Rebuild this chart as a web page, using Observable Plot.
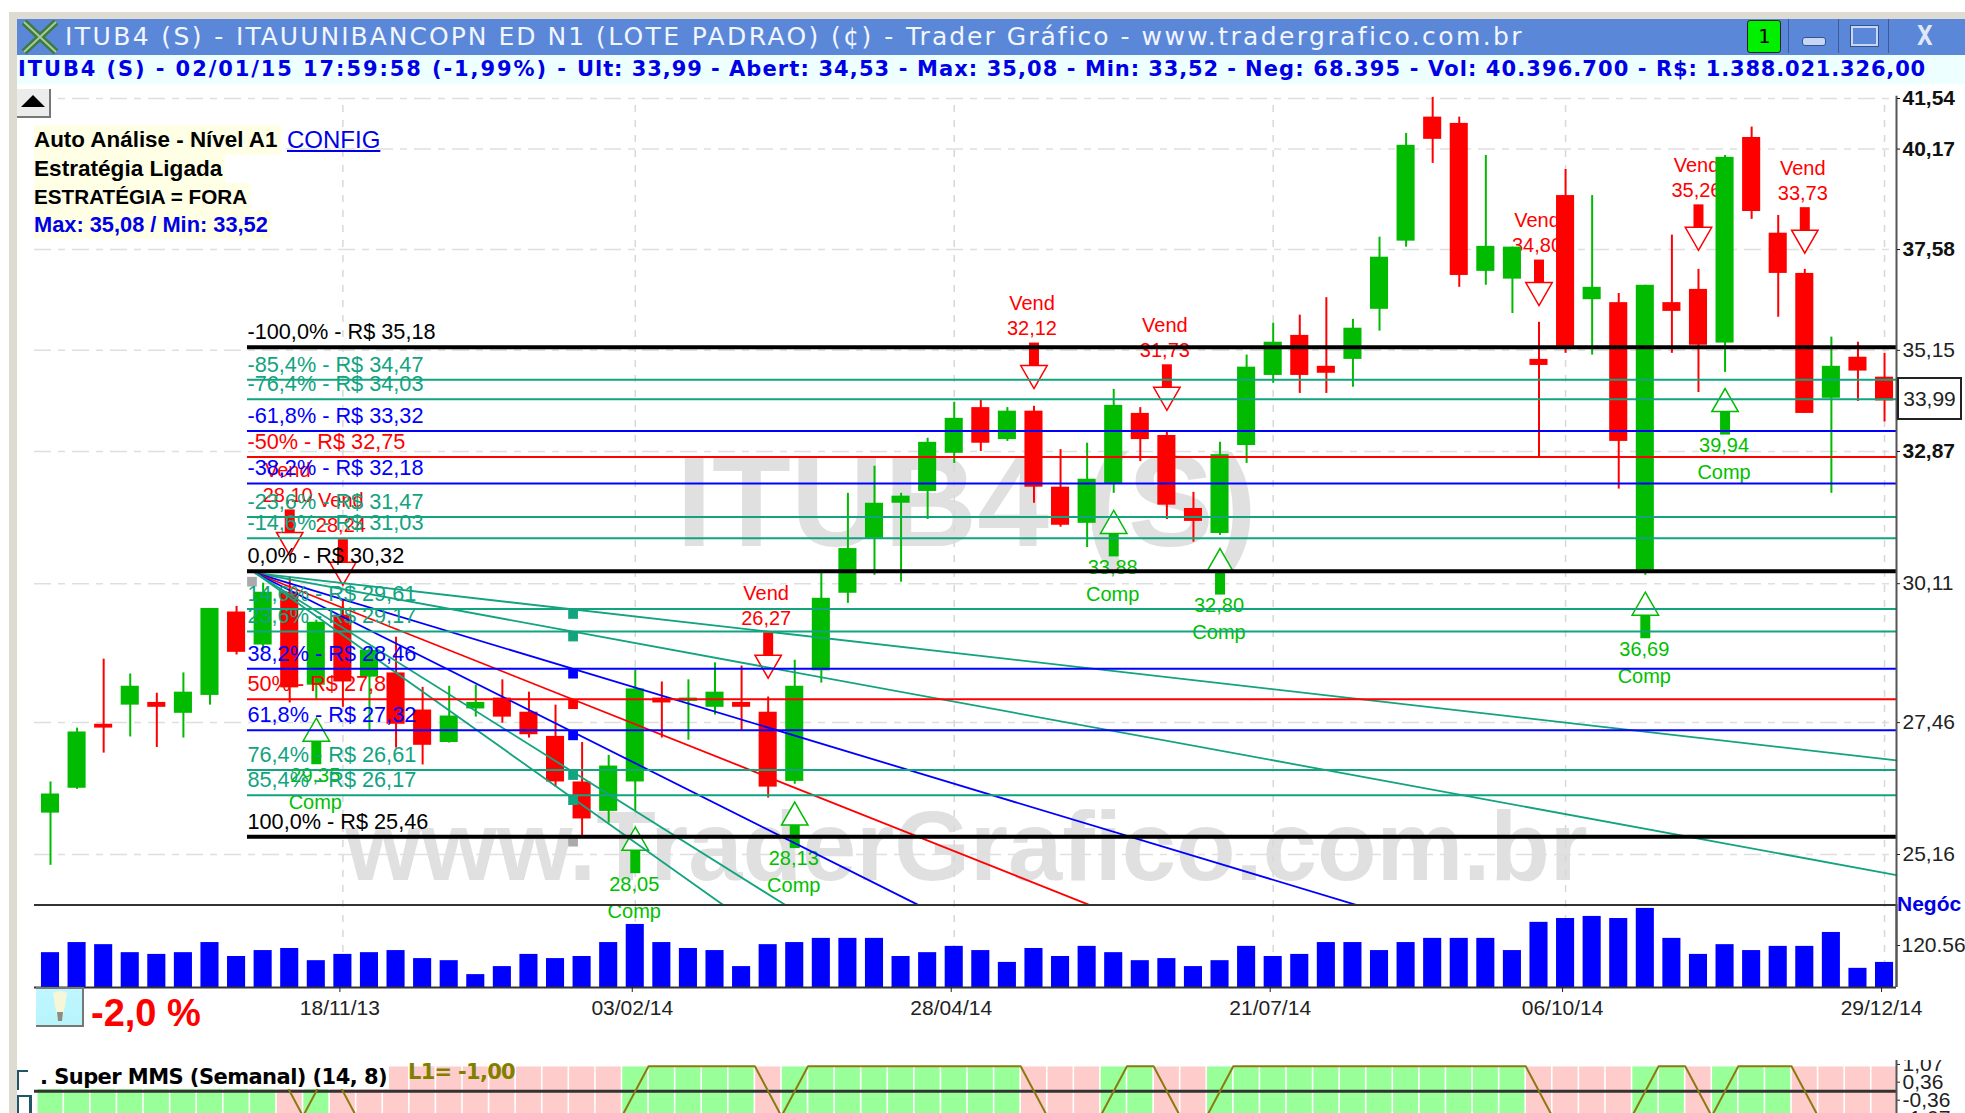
<!DOCTYPE html>
<html><head><meta charset="utf-8">
<script src="https://cdn.jsdelivr.net/npm/d3@7"></script>
<script src="https://cdn.jsdelivr.net/npm/@observablehq/plot@0.6"></script>
<style>
html,body{margin:0;padding:0;background:#fff;}
#page{position:relative;width:1965px;height:1113px;overflow:hidden;background:#fff;font-family:"Liberation Sans",Arial,sans-serif;}
#page>*{position:absolute;}
.n{white-space:nowrap;}
svg{background:transparent!important;}
</style></head><body>
<div id="page">
 <div style="left:9px;top:12px;width:1956px;height:7px;background:#dedbd2"></div>
 <div style="left:9px;top:12px;width:8px;height:1101px;background:#dedbd2"></div>
 <div style="left:17px;top:19px;width:1948px;height:36px;background:#5b87d9"></div>
 <div style="left:17px;top:55px;width:1948px;height:29px;background:#eeffff"></div>
 <div id="main" style="left:0;top:0"></div>
 <div id="vol" style="left:0;top:904px"></div>
 <div id="ind" style="left:0;top:1060px"></div>

 <svg style="left:20px;top:19px" width="40" height="36"><path d="M4 3L36 33M36 3L4 33" stroke="#3d7a3d" stroke-width="7"/><path d="M4 3L36 33M36 3L4 33" stroke="#a9c9a0" stroke-width="2"/></svg>
 <div style="left:1747px;top:20px;width:32px;height:31px;background:#00f000;border:1px solid #222;border-radius:3px;color:#000;font:20px/31px 'DejaVu Sans Mono',monospace;text-align:center">1</div>
 <div style="left:1788px;top:19px;width:1px;height:34px;background:#3c5a9c"></div>
 <div style="left:1838px;top:19px;width:1px;height:34px;background:#3c5a9c"></div>
 <div style="left:1888px;top:19px;width:1px;height:34px;background:#3c5a9c"></div>
 <div style="left:1802px;top:37px;width:22px;height:7px;background:#c7d6f2;border:1px solid #34548f;border-radius:3px"></div>
 <div style="left:1851px;top:26px;width:23px;height:16px;border:2px solid #c7d6f2;outline:1px solid #34548f"></div>
 <div class="n" style="left:1917px;top:19px;color:#dfe8f8;font:bold 26px/34px 'DejaVu Sans Mono',monospace">X</div>

 <div style="left:17px;top:89px;width:32px;height:27px;background:#ececec;border-right:2px solid #777;border-bottom:2px solid #777"></div>
 <svg style="left:20px;top:94px" width="26" height="16"><path d="M1 13L13 1L25 13Z" fill="#000"/></svg>

 <div class="n" style="left:34px;top:125px;height:30px;padding-right:4px;background:#ffffe6;font:bold 22.4px/30px 'Liberation Sans';color:#000">Auto Análise - Nível A1</div>
 <div class="n" style="left:287px;top:125px;height:30px;color:#0000e6;font:24px/30px 'Liberation Sans';text-decoration:underline">CONFIG</div>
 <div class="n" style="left:34px;top:155px;height:28px;padding-right:3px;background:#ffffe6;font:bold 22.6px/28px 'Liberation Sans';color:#000">Estratégia Ligada</div>
 <div class="n" style="left:34px;top:183px;height:28px;padding-right:3px;background:#ffffe6;font:bold 20.7px/28px 'Liberation Sans';color:#000">ESTRATÉGIA = FORA</div>
 <div class="n" style="left:34px;top:211px;height:28px;padding-right:3px;background:#ffffe6;font:bold 21.8px/28px 'Liberation Sans';color:#0000e6">Max: 35,08 / Min: 33,52</div>

 <div style="left:1897px;top:377px;width:61px;height:39px;border:2px solid #222;background:#fff;color:#222;font:21px/39px 'Liberation Sans';text-align:center">33,99</div>
 <div class="n" style="left:1897px;top:890px;color:#0000e6;font:bold 21px/28px 'Liberation Sans'">Negóc</div>

 <div style="left:36px;top:987px;width:46px;height:36px;background:linear-gradient(#bff6ff,#b8f4fb);border-right:2px solid #777;border-bottom:2px solid #777;border-top:2px solid #777"></div>
 <svg style="left:44px;top:990px" width="32" height="34"><path d="M9 3Q16 -1 23 3L21 16L18 30H14L11 16Z" fill="#f6f6d8"/><path d="M13 22H19L18 31H14Z" fill="#8c8c80"/></svg>
 <div class="n" style="left:91px;top:992px;color:#ff0000;font:bold 38px/42px 'Liberation Sans'">-2,0 %</div>

 <div style="left:34px;top:1060px;width:355px;height:29px;background:#fff"></div>
 <div style="left:17px;top:1070px;width:9px;height:18px;border-left:2px solid #225566;border-top:2px solid #225566"></div>
 <div style="left:17px;top:1095px;width:10px;height:18px;border:2px solid #225566;border-right-width:3px"></div>
</div>
<script>
// ---------- header text ----------
const titleParts = ["ITUB4 (S) - ","ITAUUNIBANCOPN ED N1 ","(LOTE PADRAO) ","(¢) - ","Trader Gráfico - ","www.tradergrafico.com.br"];
const titleEdges = [65,236,596,831,906,1141.6,1524];
const infoParts = ["ITUB4 (S) - 02/01/15 17:59:58 (-1,99%) - ","Ult: 33,99 - ","Abert: 34,53 - ","Max: 35,08 - ","Min: 33,52 - ","Neg: 68.395 - ","Vol: 40.396.700 - ","R$: 1.388.021.326,00"];
const infoEdges = [18,577,729,917,1085,1245,1428,1656,1926];

// ---------- weekly candles (ITUB4), prices in R$ ----------
const opens  = [25.86,26.29,27.43,27.78,27.83,27.63,27.96,29.55,28.91,29.94,28.15,29.49,28.30,28.38,27.69,27.10,27.71,27.91,27.65,27.21,26.40,25.89,26.40,27.91,27.85,27.74,27.83,27.65,26.41,28.42,29.92,31.03,31.76,32.01,32.83,33.84,33.13,33.76,32.10,31.34,32.16,33.71,33.22,31.65,31.13,33.00,34.57,35.50,34.78,34.94,36.12,37.79,41.03,40.86,37.04,36.85,34.94,38.95,36.35,36.28,30.38,36.28,36.60,35.32,40.48,37.99,36.99,34.05,34.99,34.53];
const closes = [26.19,27.29,27.36,28.13,27.74,28.02,29.62,28.77,29.94,28.10,29.35,28.21,28.81,27.43,27.05,27.58,27.83,27.56,27.24,26.40,25.76,26.68,28.08,27.82,27.91,28.02,27.74,26.31,28.13,29.82,30.82,31.76,31.91,33.07,33.60,33.05,33.76,32.10,31.30,32.27,33.89,33.13,31.72,31.38,32.80,34.76,35.34,34.57,34.62,35.67,37.39,40.27,40.43,36.94,37.66,37.64,34.80,35.24,36.65,33.09,36.70,36.07,35.27,39.95,38.54,36.99,33.71,34.78,34.67,33.99];
const highs  = [26.40,27.36,28.64,28.36,28.00,28.38,29.62,29.66,30.12,30.24,29.39,29.78,28.87,29.06,28.11,28.13,28.15,28.25,28.02,27.78,27.10,26.87,28.43,28.21,28.25,28.57,28.51,27.93,28.62,30.32,31.97,32.55,31.97,33.16,33.96,34.02,33.84,33.87,32.91,33.05,34.25,33.84,33.29,31.99,33.07,35.04,35.79,35.98,36.40,35.88,37.89,40.59,41.57,41.03,40.00,37.64,35.81,39.63,38.95,36.50,36.70,37.94,37.09,40.00,40.76,38.44,37.09,35.46,35.34,35.08];
const lows   = [24.98,26.27,26.91,27.20,27.01,27.18,27.78,28.72,28.81,27.82,27.87,27.74,27.32,27.00,26.70,27.09,27.56,27.45,27.18,26.31,25.48,25.69,25.89,27.18,27.14,27.60,27.32,26.12,26.36,28.19,29.72,30.28,30.14,31.42,32.61,32.87,33.09,31.76,31.26,30.84,31.97,32.65,31.42,30.95,31.09,32.61,34.39,34.16,34.16,34.30,35.60,37.64,39.79,36.65,36.70,36.02,32.76,35.08,35.04,32.06,30.28,35.08,34.18,34.64,38.34,35.93,33.71,31.97,33.98,33.52];
const volumes = [100,129,123,100,95,100,129,89,106,112,77,95,100,106,83,77,37,60,95,83,89,129,181,129,112,106,60,123,129,141,141,141,89,100,118,106,72,112,89,118,100,77,83,60,77,118,89,95,129,129,106,129,141,141,141,106,187,198,204,198,227,141,95,123,106,118,118,158,55,72];
// Super MMS state per week: 1 = buy (green), -1 = sell (pink)
const mmsRuns = [[9,1],[1,-1],[1,1],[11,-1],[5,1],[1,-1],[9,1],[3,-1],[2,1],[2,-1],[12,1],[4,-1],[2,1],[1,-1],[3,1],[4,-1]];

// ---------- axes ----------
const dateTicks = [11,22,34,46,57,69];
const dateLabels = ["18/11/13","03/02/14","28/04/14","21/07/14","06/10/14","29/12/14"];
const boldTicks = [41.54,40.17,37.58,32.87];
const plainTicks = [35.15,30.11,27.46,25.16];
const allTicks = [...boldTicks,...plainTicks];

// ---------- Fibonacci levels ----------
const fibValues = [35.22,34.47,34.03,33.32,32.75,32.18,31.47,31.03,30.36,29.61,29.17,28.46,27.89,27.32,26.61,26.17,25.46];
const fibTexts = ["-100,0% - R$ 35,18","-85,4% - R$ 34,47","-76,4% - R$ 34,03","-61,8% - R$ 33,32","-50% - R$ 32,75","-38,2% - R$ 32,18","-23,6% - R$ 31,47","-14,6% - R$ 31,03","0,0% - R$ 30,32","14,6% - R$ 29,61","23,6% - R$ 29,17","38,2% - R$ 28,46","50% - R$ 27,89","61,8% - R$ 27,32","76,4% - R$ 26,61","85,4% - R$ 26,17","100,0% - R$ 25,46"];
const fibKinds = ["k","t","t","b","r","b","t","t","k","t","t","b","r","b","t","t","k"];
const kindColor = {k:"#000000",t:"#12a37f",b:"#0000ff",r:"#ff0000"};

// ---------- fan lines ----------
const fanStart = [7.72,30.32];
const fanEndX = [69.45,69.45,49.15,39.1,32.66,27.65,25.31];
const fanEndY = [26.78,24.82,24.33,24.33,24.33,24.33,24.33];
const fanKinds = ["t","t","b","r","b","t","t"];
const fanMarkIndex = 19.66;
const fanMarkPrices = [29.61,29.17,28.46,27.89,27.32,26.61,26.17];

// ---------- signals ----------
const vendIndex = [9,11,27,37,42,56,62,66];
const vendPrice = [30.68,30.08,28.28,34.27,33.78,36.21,37.56,37.49];
const vendText  = ["28,10","28,24","26,27","32,12","31,73","34,80","35,26","33,73"];
const compIndex = [10,22,28,40,44,60,63];
const compPrice = [27.54,25.62,26.05,31.61,30.82,29.94,34.27];
const compText  = ["29,35","28,05","28,13","33,88","32,80","36,69","39,94"];

// ---------- helper: header text fitted between two edges ----------
const page = document.getElementById("page");
const ctx = document.createElement("canvas").getContext("2d");
function fit(text,left,right,font,top,lh,color,bg){
  ctx.font = font;
  const gap = (right-left-ctx.measureText(text).width)/text.length;
  const d = document.createElement("div");
  d.className="n"; d.textContent=text;
  d.style.cssText=`left:${left}px;top:${top}px;font:${font};line-height:${lh}px;color:${color};letter-spacing:${gap}px;white-space:pre;`;
  page.append(d);
}
titleParts.forEach((t,i)=>fit(t,titleEdges[i],titleEdges[i+1],"25px 'DejaVu Sans'",19,36,"#f2f6ff"));
infoParts.forEach((t,i)=>fit(t,infoEdges[i],infoEdges[i+1],"bold 21px 'DejaVu Sans'",55,29,"#0000e6"));
fit(". Super MMS (Semanal) (14, 8)",40,387,"bold 21px 'DejaVu Sans'",1064,26,"#000");
fit("L1= -1,00",408,515,"bold 21px 'DejaVu Sans'",1059,26,"#808000");

// ---------- tables ----------
const GREEN="#00bb00", RED="#ff0000", SANS="Liberation Sans";
const candles = opens.map((o,i)=>({i,o,c:closes[i],h:highs[i],l:lows[i],v:volumes[i],col:closes[i]>=o?GREEN:RED}));
const fib = fibValues.map((v,i)=>({v,t:fibTexts[i],col:kindColor[fibKinds[i]],w:fibKinds[i]==="k"?4:2}));
const fans = fanEndX.flatMap((x,k)=>[{k,x:fanStart[0],y:fanStart[1]},{k,x,y:fanEndY[k]}]);
const vend = vendIndex.map((i,k)=>({i,p:vendPrice[k],t:vendText[k]}));
const comp = compIndex.map((i,k)=>({i,p:compPrice[k],t:compText[k]}));
const mms = mmsRuns.flatMap(([n,s])=>Array(n).fill(s)).map((s,i)=>({i,s}));
const fmt = d=>d.toFixed(2).replace(".",",");

const triUp = {draw(c,s){const r=Math.sqrt(s/Math.PI);c.moveTo(0,-r);c.lineTo(r*1.15,r);c.lineTo(-r*1.15,r);c.closePath();}};
const triDown = {draw(c,s){const r=Math.sqrt(s/Math.PI);c.moveTo(0,r);c.lineTo(r*1.15,-r);c.lineTo(-r*1.15,-r);c.closePath();}};
const stem = {draw(c,s){const r=Math.sqrt(s/Math.PI);c.rect(-5,-r,10,2*r);}};

const xOpts = {domain:[-0.602,69.45]};
const common = {width:1965,marginLeft:34,marginRight:69,marginTop:0,style:{background:"transparent",overflow:"hidden"}};

const main = Plot.plot({...common,height:1113,marginBottom:0,
  x:{...xOpts,axis:null},
  y:{type:"log",domain:[25.16,41.54],range:[854,98],axis:null},
  marks:[
    Plot.text(["ITUB4 (S)"],{x:()=>34.46,y:()=>31.72,text:d=>d,fontSize:129,fontWeight:"bold",fontFamily:SANS,fill:"#e0e0e0"}),
    Plot.text(["www.TraderGrafico.com.br"],{x:()=>34.46,y:()=>25.25,text:d=>d,fontSize:97.5,fontWeight:"bold",fontFamily:SANS,fill:"#e0e0e0"}),
    Plot.gridY(allTicks,{stroke:"#dfdfdf",strokeOpacity:1,strokeWidth:1.5,strokeDasharray:"17,7,7,7"}),
    Plot.ruleX(dateTicks,{y1:41.35,y2:23.04,stroke:"#d8d8d8",strokeWidth:1.5,strokeDasharray:"7,8"}),
    // signal captions sit under the candles
    Plot.text(vend,{x:"i",y:"p",text:()=>"Vend",dy:-85,dx:-2,fontSize:20,fontFamily:SANS,fill:RED}),
    Plot.text(vend,{x:"i",y:"p",text:"t",dy:-60,dx:-2,fontSize:20,fontFamily:SANS,fill:RED}),
    Plot.text(comp,{x:"i",y:"p",text:"t",dy:57,dx:-1,fontSize:20,fontFamily:SANS,fill:"#00c000"}),
    Plot.text(comp,{x:"i",y:"p",text:()=>"Comp",dy:84,dx:-1,fontSize:20,fontFamily:SANS,fill:"#00c000"}),
    Plot.ruleX(candles,{x:"i",y1:"l",y2:"h",stroke:"col",strokeWidth:2}),
    Plot.rect(candles,{x1:d=>d.i-0.34,x2:d=>d.i+0.34,y1:"o",y2:"c",fill:"col"}),
    Plot.dot(vend,{x:"i",y:"p",dy:-34.5,symbol:stem,r:11.5,fill:RED,stroke:"none"}),
    Plot.dot(vend,{x:"i",y:"p",dy:-11.5,symbol:triDown,r:11.5,fill:"#fff",stroke:RED,strokeWidth:1.5}),
    Plot.dot(comp,{x:"i",y:"p",dy:34.5,symbol:stem,r:11.5,fill:GREEN,stroke:"none"}),
    Plot.dot(comp,{x:"i",y:"p",dy:11.5,symbol:triUp,r:11.5,fill:"#fff",stroke:GREEN,strokeWidth:1.5}),
    // Fibonacci fan
    Plot.line(fans,{x:"x",y:"y",z:"k",stroke:d=>kindColor[fanKinds[d.k]],strokeWidth:1.8}),
    Plot.dot(fanMarkPrices,{x:()=>fanMarkIndex,y:d=>d,dy:5,symbol:"square",r:5.5,fill:(d,i)=>kindColor[fanKinds[i]],stroke:"none"}),
    Plot.dot([[fanMarkIndex,25.46],[7.58,30.25]],{x:"0",y:"1",dy:5,symbol:"square",r:5.5,fill:"#aaaaaa",stroke:"none"}),
    // Fibonacci levels
    Plot.ruleY(fib,{y:"v",x1:7.41,x2:69.45,stroke:"col",strokeWidth:"w"}),
    Plot.text(fib,{x:()=>7.41,y:"v",text:"t",dy:-15,textAnchor:"start",fontSize:21.7,fontFamily:SANS,fill:"col"}),
    Plot.ruleX([69.45],{y1:41.6,y2:23.04,stroke:"#555",strokeWidth:2}),
    Plot.ruleY([24.33],{stroke:"#333",strokeWidth:2}),
    Plot.axisY(boldTicks,{anchor:"right",tickSize:3,tickPadding:3,tickFormat:fmt,label:null,fontSize:21,fontWeight:"bold",fontFamily:SANS,fill:"#111",stroke:"#111"}),
    Plot.axisY(plainTicks,{anchor:"right",tickSize:3,tickPadding:3,tickFormat:fmt,label:null,fontSize:21,fontFamily:SANS,fill:"#222",stroke:"#222"})
  ]});
document.getElementById("main").append(main);

const vol = Plot.plot({...common,height:130,marginBottom:47,
  x:{...xOpts,axis:null},
  y:{domain:[0,120.56],range:[83,41],axis:null},
  marks:[
    Plot.rect(candles,{x1:d=>d.i-0.34,x2:d=>d.i+0.34,y1:0,y2:"v",fill:"#0000ff"}),
    Plot.ruleY([0],{stroke:"#333",strokeWidth:2}),
    Plot.axisX(dateTicks,{anchor:"bottom",tickSize:5,tickPadding:8,tickFormat:d=>dateLabels[dateTicks.indexOf(d)],label:null,fontSize:21,fontFamily:SANS,fill:"#222",stroke:"#222",dx:-3}),
    Plot.axisY([120.56],{anchor:"right",tickSize:3,tickPadding:2,tickFormat:d=>d.toFixed(2),label:null,fontSize:21,fontFamily:SANS,fill:"#222",stroke:"#222"}),
    Plot.ruleX([69.45],{y1:120.56*2,y2:0,stroke:"#555",strokeWidth:2})
  ]});
document.getElementById("vol").append(vol);

const ind = Plot.plot({...common,height:53,marginBottom:0,
  x:{...xOpts,axis:null},
  y:{domain:[-1,1],range:[55.7,5.7],axis:null},
  marks:[
    Plot.rect(mms,{x1:d=>d.i-0.47,x2:d=>d.i+0.47,y1:-1.1,y2:0.97,fill:d=>d.s>0?"#99ff99":"#ffcccc"}),
    Plot.ruleY([0],{stroke:"#333",strokeWidth:3}),
    Plot.line(mms,{x:d=>d.i+0.5,y:"s",stroke:"#8a7a10",strokeWidth:2}),
    Plot.axisY([1.07,0.36,-0.36,-1.07],{anchor:"right",tickSize:3,tickPadding:3,tickFormat:fmt,label:null,fontSize:21,fontFamily:SANS,fill:"#222",stroke:"#222"}),
    Plot.ruleX([69.45],{stroke:"#555",strokeWidth:2})
  ]});
document.getElementById("ind").append(ind);
</script>
</body></html>
